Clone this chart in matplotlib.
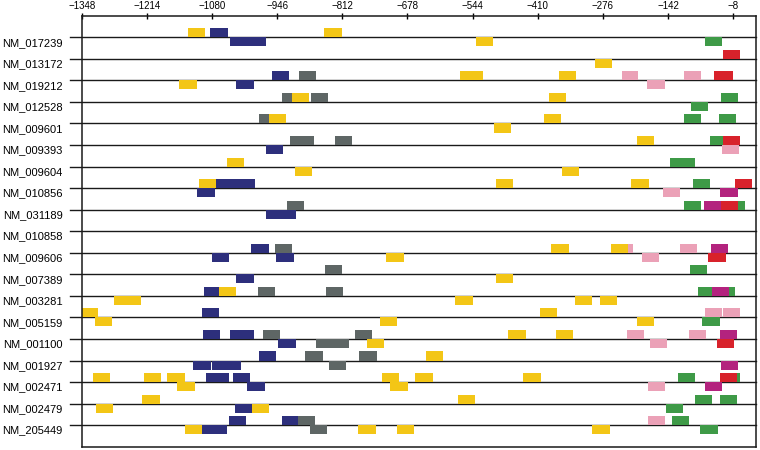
import matplotlib
matplotlib.use('Agg')
import matplotlib.pyplot as plt
import matplotlib.transforms as mtransforms

plt.rcParams['font.family'] = ['Liberation Sans', 'DejaVu Sans']
plt.rcParams['axes.unicode_minus'] = True

# genes (top to bottom)
genes = ['NM_017239', 'NM_013172', 'NM_019212', 'NM_012528', 'NM_009601',
         'NM_009393', 'NM_009604', 'NM_010856', 'NM_031189', 'NM_010858',
         'NM_009606', 'NM_007389', 'NM_003281', 'NM_005159', 'NM_001100',
         'NM_001927', 'NM_002471', 'NM_002479', 'NM_205449']

# x axis ticks (position upstream)
tick_values = [-1348, -1214, -1080, -946, -812, -678, -544, -410, -276, -142, -8]

# motif colours
motif_colors = {
    'Y': '#F3C616',   # yellow
    'N': '#2D2F7C',   # navy
    'Gy': '#5E6665',  # grey
    'G': '#3E9A47',   # green
    'R': '#D8222B',   # red
    'P': '#EBA1B7',   # pink
    'M': '#B3237E',   # magenta
}

# hits per gene: (motif, strand, start, end)  '+' = above line, '-' = below
hits_017239 = [('Y', '+', -1129, -1094), ('N', '+', -1084, -1048), ('N', '-', -1043, -970),
               ('Y', '+', -849, -813), ('Y', '-', -537, -502), ('G', '-', -66, -31)]
hits_013172 = [('R', '+', -29, 6), ('Y', '-', -292, -257)]
hits_019212 = [('N', '+', -957, -921), ('Gy', '+', -901, -866), ('Y', '-', -1148, -1111),
               ('N', '-', -1030, -994), ('Y', '+', -571, -522), ('Y', '+', -366, -331),
               ('P', '+', -237, -203), ('P', '+', -109, -74), ('R', '+', -47, -9),
               ('P', '-', -185, -149)]
hits_012528 = [('Gy', '+', -937, -901), ('Y', '+', -916, -880), ('Gy', '+', -877, -841),
               ('Y', '+', -388, -353), ('G', '+', -33, 2), ('G', '-', -96, -60)]
hits_009601 = [('Gy', '+', -983, -948), ('Y', '+', -963, -928), ('Y', '+', -398, -362),
               ('G', '+', -109, -74), ('G', '+', -38, -2), ('Y', '-', -500, -465)]
hits_009393 = [('Gy', '+', -919, -871), ('Gy', '+', -828, -793), ('N', '-', -970, -935),
               ('Y', '+', -207, -171), ('G', '+', -56, -21), ('R', '+', -29, 6),
               ('P', '-', -31, 4)]
hits_009604 = [('Y', '+', -1050, -1014), ('Y', '-', -910, -874), ('G', '+', -138, -87),
               ('Y', '-', -360, -325)]
hits_010856 = [('Y', '+', -1107, -1072), ('N', '+', -1072, -992), ('N', '-', -1110, -1074),
               ('Y', '+', -497, -462), ('Y', '+', -218, -182), ('G', '+', -91, -56),
               ('R', '+', -5, 30), ('P', '-', -153, -118), ('M', '-', -35, 2)]
hits_031189 = [('Gy', '+', -925, -890), ('N', '-', -968, -908), ('G', '+', -109, -74),
               ('G', '+', -19, 17), ('M', '+', -68, -34), ('R', '+', -34, 2)]
hits_010858 = []
hits_009606 = [('N', '+', -999, -963), ('Gy', '+', -950, -915), ('N', '-', -1081, -1046),
               ('N', '-', -948, -912), ('Y', '+', -382, -346), ('P', '+', -249, -214),
               ('Y', '+', -260, -224), ('P', '+', -118, -83), ('M', '+', -54, -18),
               ('Y', '-', -722, -686), ('P', '-', -196, -160), ('R', '-', -60, -24)]
hits_007389 = [('Gy', '+', -848, -813), ('N', '-', -1030, -994), ('G', '+', -98, -63),
               ('Y', '-', -497, -462)]
hits_003281 = [('N', '+', -1096, -1061), ('Y', '+', -1066, -1030), ('Gy', '+', -985, -950),
               ('Gy', '+', -846, -811), ('Y', '-', -1281, -1227), ('G', '+', -80, -45),
               ('G', '+', -40, -5), ('M', '+', -51, -16), ('Y', '-', -580, -544),
               ('Y', '-', -334, -298), ('Y', '-', -282, -247)]
hits_005159 = [('Y', '+', -1349, -1314), ('N', '+', -1101, -1066), ('Y', '-', -1320, -1285),
               ('Y', '-', -735, -700), ('Y', '+', -406, -370), ('P', '+', -66, -31),
               ('P', '+', -29, 6), ('Y', '-', -207, -171), ('G', '-', -72, -36)]
hits_001100 = [('N', '+', -1099, -1063), ('N', '+', -1042, -994), ('Gy', '+', -975, -940),
               ('Gy', '+', -785, -750), ('N', '-', -944, -908), ('Gy', '-', -866, -799),
               ('Y', '-', -761, -726), ('Y', '+', -471, -435), ('Y', '+', -373, -338),
               ('P', '+', -227, -192), ('P', '+', -100, -65), ('M', '+', -36, 0),
               ('P', '-', -180, -145), ('R', '-', -42, -7)]
hits_001927 = [('N', '+', -983, -948), ('Gy', '+', -888, -852), ('Gy', '+', -777, -741),
               ('N', '-', -1119, -1083), ('N', '-', -1080, -1021), ('Gy', '-', -839, -804),
               ('Y', '+', -640, -604), ('M', '-', -34, 2)]
hits_002471 = [('Y', '+', -1325, -1289), ('Y', '+', -1220, -1185), ('Y', '+', -1172, -1136),
               ('N', '+', -1092, -1046), ('N', '+', -1037, -1001), ('Y', '-', -1152, -1116),
               ('N', '-', -1008, -972), ('Y', '+', -730, -695), ('Y', '+', -662, -626),
               ('Y', '+', -440, -404), ('G', '+', -122, -87), ('G', '+', -29, 6),
               ('R', '+', -35, 0), ('Y', '-', -713, -677), ('P', '-', -184, -149),
               ('M', '-', -67, -31)]
hits_002479 = [('Y', '+', -1223, -1188), ('Y', '-', -1319, -1283), ('N', '-', -1032, -998),
               ('Y', '-', -998, -963), ('Y', '+', -575, -539), ('G', '+', -87, -51),
               ('G', '+', -36, 0), ('G', '-', -147, -111)]
hits_205449 = [('N', '+', -1046, -1010), ('N', '+', -937, -903), ('Gy', '+', -903, -868),
               ('Y', '-', -1136, -1101), ('N', '-', -1101, -1050), ('Gy', '-', -879, -844),
               ('Y', '-', -779, -743), ('P', '+', -184, -149), ('G', '+', -135, -100),
               ('Y', '-', -700, -664), ('Y', '-', -298, -262), ('G', '-', -76, -40)]

all_hits = [hits_017239, hits_013172, hits_019212, hits_012528, hits_009601,
            hits_009393, hits_009604, hits_010856, hits_031189, hits_010858,
            hits_009606, hits_007389, hits_003281, hits_005159, hits_001100,
            hits_001927, hits_002471, hits_002479, hits_205449]

fig = plt.figure(figsize=(7.6, 4.5), dpi=100)
ax = fig.add_axes([0.1075, 0.0073, 0.8868, 0.9578])

bar_h = 0.42
for i, (gene, hits) in enumerate(zip(genes, all_hits)):
    row = i + 1
    # sequence line, slightly longer than the axes on the left
    ax.axhline(row, xmin=-0.0174, xmax=1, color='#1a1a1a', lw=1.0, clip_on=False, zorder=1)
    for motif, strand, start, end in hits:
        y0 = row - bar_h if strand == '+' else row
        ax.barh(y0, end - start, height=bar_h, left=start, align='edge',
                color=motif_colors[motif], linewidth=0, zorder=2)

# gene names
trans = mtransforms.blended_transform_factory(ax.transAxes, ax.transData)
for i, gene in enumerate(genes):
    ax.text(-0.028, i + 1 + 0.25, gene, transform=trans, ha='right', va='center', fontsize=8)

ax.set_xlim(-1348, 38)
ax.set_ylim(len(genes) + 1, 0)

ax.xaxis.tick_top()
ax.set_xticks(tick_values)
ax.set_xticklabels([str(v).replace('-', '\u2212') for v in tick_values], fontsize=7)
ax.tick_params(axis='x', direction='inout', length=5, width=1, pad=1)
ax.set_yticks([])

for s in ax.spines.values():
    s.set_linewidth(1.1)
    s.set_color('#1a1a1a')

fig.savefig('out.png', dpi=100)
